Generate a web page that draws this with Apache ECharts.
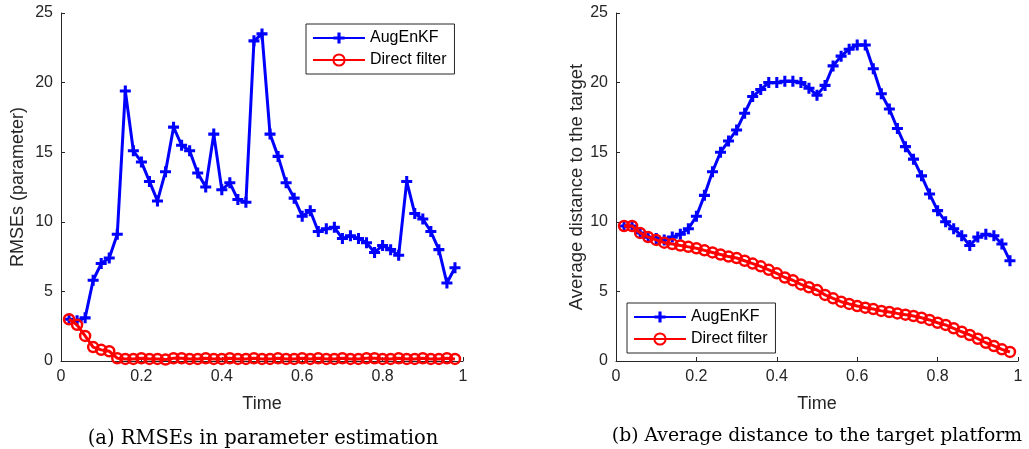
<!DOCTYPE html>
<html>
<head>
<meta charset="utf-8">
<script src="https://cdn.jsdelivr.net/npm/echarts@6/dist/echarts.min.js"></script>
<style>
  html, body { margin: 0; padding: 0; background: #fff; }
  #chart { width: 1029px; height: 449px; }
</style>
</head>
<body>
<div id="chart"></div>
<script>
// Time instants shared by both panels
const times = [0.02, 0.04, 0.06, 0.08, 0.10, 0.12, 0.14, 0.16, 0.18, 0.20,
  0.22, 0.24, 0.26, 0.28, 0.30, 0.32, 0.34, 0.36, 0.38, 0.40,
  0.42, 0.44, 0.46, 0.48, 0.50, 0.52, 0.54, 0.56, 0.58, 0.60,
  0.62, 0.64, 0.66, 0.68, 0.70, 0.72, 0.74, 0.76, 0.78, 0.80,
  0.82, 0.84, 0.86, 0.88, 0.90, 0.92, 0.94, 0.96, 0.98];

// (a) RMSEs in parameter estimation
const rmseAugEnKF = [3.0, 2.9, 3.1, 5.8, 7.0, 7.4, 9.1, 19.4, 15.1, 14.3,
  12.9, 11.5, 13.6, 16.8, 15.5, 15.1, 13.5, 12.5, 16.3, 12.3,
  12.8, 11.6, 11.4, 23.0, 23.5, 16.3, 14.7, 12.8, 11.7, 10.4,
  10.8, 9.3, 9.5, 9.6, 8.8, 9.0, 8.8, 8.5, 7.8, 8.3,
  8.0, 7.6, 12.9, 10.6, 10.2, 9.3, 8.0, 5.6, 6.7];
const rmseDirect = [3.0, 2.6, 1.8, 1.0, 0.8, 0.7, 0.2, 0.15, 0.15, 0.2,
  0.15, 0.15, 0.1, 0.2, 0.2, 0.15, 0.15, 0.2, 0.15, 0.15,
  0.2, 0.15, 0.15, 0.2, 0.15, 0.15, 0.2, 0.15, 0.15, 0.2,
  0.15, 0.2, 0.15, 0.15, 0.2, 0.15, 0.15, 0.2, 0.2, 0.15,
  0.15, 0.2, 0.15, 0.15, 0.2, 0.15, 0.15, 0.2, 0.15];

// (b) Average distance to the target platform
const distAugEnKF = [9.7, 9.7, 9.2, 8.9, 8.8, 8.7, 8.9, 9.1, 9.5, 10.4,
  11.9, 13.6, 15.0, 15.8, 16.6, 17.8, 19.0, 19.5, 20.0, 20.0,
  20.1, 20.1, 20.0, 19.6, 19.1, 19.8, 21.2, 21.9, 22.4, 22.7,
  22.7, 21.0, 19.2, 18.1, 16.7, 15.4, 14.5, 13.3, 12.0, 10.8,
  10.0, 9.5, 9.0, 8.3, 8.9, 9.1, 9.0, 8.4, 7.2];
const distDirect = [9.7, 9.7, 9.2, 8.9, 8.7, 8.5, 8.4, 8.3, 8.2, 8.1,
  7.95, 7.8, 7.65, 7.5, 7.4, 7.2, 7.0, 6.8, 6.55, 6.3,
  6.0, 5.8, 5.5, 5.3, 5.1, 4.75, 4.5, 4.26, 4.1, 3.95,
  3.83, 3.73, 3.6, 3.52, 3.42, 3.33, 3.23, 3.11, 2.95, 2.75,
  2.59, 2.35, 2.1, 1.87, 1.6, 1.31, 1.08, 0.84, 0.65];

// Axis ticks
const xTicks = [0, 0.2, 0.4, 0.6, 0.8, 1];
const yTicks = [0, 5, 10, 15, 20, 25];

const pairs = (ys) => times.map((t, i) => [t, ys[i]]);

const AXIS_COLOR = '#262626';
const SANS = '"Liberation Sans", Arial, sans-serif';
const SERIF = '"DejaVu Serif", serif';
const PLUS = 'path://M3.6,0h2.8v3.6h3.6v2.8h-3.6v3.6h-2.8v-3.6h-3.6v-2.8h3.6z';

function xAxisFor(gridIndex) {
  return {
    type: 'value', gridIndex,
    min: xTicks[0], max: xTicks[xTicks.length - 1], interval: 0.2,
    name: 'Time', nameLocation: 'middle', nameGap: 34,
    nameTextStyle: { fontFamily: SANS, fontSize: 18, color: AXIS_COLOR },
    axisLine: { show: true, onZero: false, lineStyle: { color: AXIS_COLOR, width: 1 } },
    axisTick: { show: true, inside: true, length: 4, lineStyle: { color: AXIS_COLOR } },
    axisLabel: { fontFamily: SANS, fontSize: 16, color: AXIS_COLOR, margin: 8,
      formatter: (v) => String(v) },
    splitLine: { show: false }
  };
}

function yAxisFor(gridIndex, name, gap, size) {
  return {
    type: 'value', gridIndex,
    min: yTicks[0], max: yTicks[yTicks.length - 1], interval: 5,
    name, nameLocation: 'middle', nameGap: gap,
    nameTextStyle: { fontFamily: SANS, fontSize: size, color: AXIS_COLOR },
    axisLine: { show: true, lineStyle: { color: AXIS_COLOR, width: 1 } },
    axisTick: { show: true, inside: true, length: 4, lineStyle: { color: AXIS_COLOR } },
    axisLabel: { fontFamily: SANS, fontSize: 16, color: AXIS_COLOR, margin: 8 },
    splitLine: { show: false }
  };
}

function augSeries(idx, ys) {
  return {
    name: 'AugEnKF', type: 'line', xAxisIndex: idx, yAxisIndex: idx,
    data: pairs(ys), symbol: PLUS, symbolSize: 11, showAllSymbol: true,
    lineStyle: { color: '#0000ff', width: 3 },
    itemStyle: { color: '#0000ff', borderWidth: 0 },
    emphasis: { disabled: true }, z: 2, animation: false
  };
}

function directSeries(idx, ys) {
  return {
    name: 'Direct filter', type: 'line', xAxisIndex: idx, yAxisIndex: idx,
    data: pairs(ys), symbol: 'circle', symbolSize: 10, showAllSymbol: true,
    lineStyle: { color: '#ff0000', width: 3 },
    itemStyle: { color: 'rgba(255,255,255,0)', borderColor: '#ff0000', borderWidth: 2.5 },
    emphasis: { disabled: true }, z: 3, animation: false
  };
}

function legendAt(left, top) {
  return {
    left, top, orient: 'vertical',
    data: ['AugEnKF', 'Direct filter'],
    itemWidth: 52, itemHeight: 14, itemGap: 6,
    padding: [6, 8, 6, 6],
    borderColor: AXIS_COLOR, borderWidth: 1, backgroundColor: '#fff',
    textStyle: { fontFamily: SANS, fontSize: 16, color: '#000' },
    selectedMode: false
  };
}

const chart = echarts.init(document.getElementById('chart'), null, { renderer: 'canvas' });
chart.setOption({
  animation: false,
  backgroundColor: '#fff',
  grid: [
    { left: 61, top: 13, width: 402, height: 348, containLabel: false },
    { left: 616, top: 13, width: 402, height: 348, containLabel: false }
  ],
  xAxis: [xAxisFor(0), xAxisFor(1)],
  yAxis: [yAxisFor(0, 'RMSEs (parameter)', 34, 18), yAxisFor(1, 'Average distance to the target', 30, 18.5)],
  legend: [legendAt(306, 24), legendAt(627, 303)],
  title: [
    { text: '(a) RMSEs in parameter estimation', left: 258, top: 424, textAlign: 'center',
      textStyle: { fontFamily: SERIF, fontSize: 19.5, fontWeight: 'normal', color: '#000' } },
    { text: '(b) Average distance to the target platform', left: 812, top: 422, textAlign: 'center',
      textStyle: { fontFamily: SERIF, fontSize: 18.8, fontWeight: 'normal', color: '#000' } }
  ],
  series: [
    augSeries(0, rmseAugEnKF), directSeries(0, rmseDirect),
    augSeries(1, distAugEnKF), directSeries(1, distDirect)
  ]
});
</script>
</body>
</html>
